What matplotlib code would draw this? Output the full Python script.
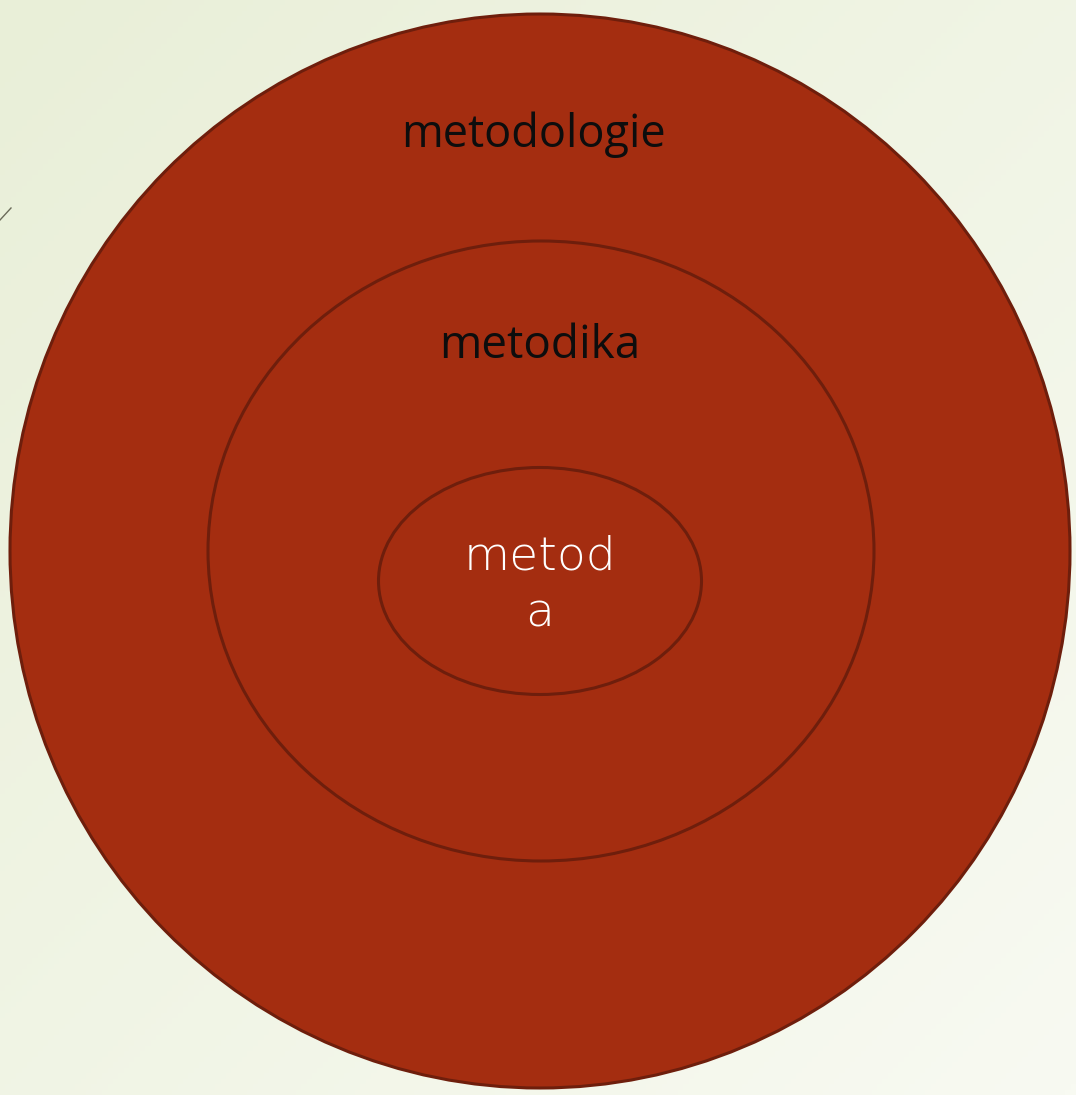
import numpy as np
import matplotlib
matplotlib.use("Agg")
import matplotlib.pyplot as plt
from matplotlib.patches import Ellipse
from matplotlib.colors import LinearSegmentedColormap

W, H = 1076, 1095

# Nested ellipses (outer -> inner): label, center, width, height
labels = ["metodologie", "metodika", "metod\na"]
centers_x = [540, 541, 540]
centers_y = [551, 551, 581]
widths = [1060, 666, 323]
heights = [1074, 620, 227]
label_x = [533, 540, 540]
label_y = [135, 346, 585]
label_colors = ["#0d0d0d", "#0d0d0d", "#ffffff"]

fill_color = "#A42D10"
edge_color = "#6E1E0C"

fig = plt.figure(figsize=(W / 100, H / 100), dpi=100)
ax = fig.add_axes([0, 0, 1, 1])
ax.set_xlim(0, W)
ax.set_ylim(H, 0)
ax.axis("off")

# background gradient
yy, xx = np.mgrid[0:1:200j, 0:1:200j]
t = (xx + yy) / 2
cmap = LinearSegmentedColormap.from_list("bg", ["#E9EFD8", "#F8FAF2"])
ax.imshow(t, cmap=cmap, extent=[0, W, H, 0], aspect="auto", zorder=0)

# small decorative line at left
ax.plot([0, 11], [220, 208], color="#6b6b5a", lw=1.0, zorder=1)

for i in range(3):
    e = Ellipse((centers_x[i], centers_y[i]), widths[i], heights[i],
                facecolor=fill_color, edgecolor=edge_color, lw=2.2, zorder=2 + i)
    ax.add_patch(e)

ax.text(label_x[0], label_y[0], labels[0], ha="center", va="center",
        fontsize=32.5, color=label_colors[0], family="Open Sans", zorder=10)
ax.text(label_x[1], label_y[1], labels[1], ha="center", va="center",
        fontsize=33, color=label_colors[1], family="Open Sans", zorder=10)
ax.text(label_x[2], label_y[2], labels[2], ha="center", va="center",
        fontsize=34, color=label_colors[2], family="DejaVu Sans",
        fontweight="light", linespacing=1.35, zorder=10)

fig.savefig("out.png", dpi=100)
